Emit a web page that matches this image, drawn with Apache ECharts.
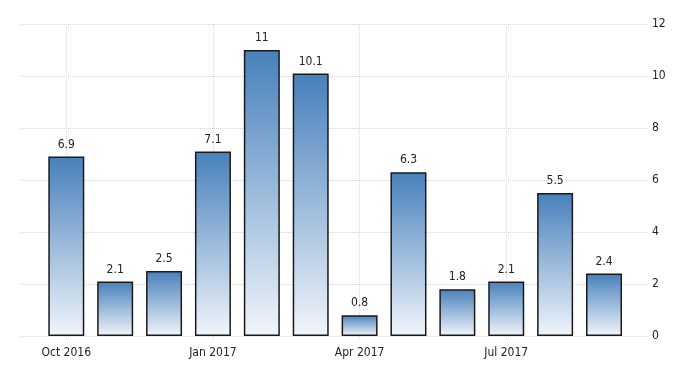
<!DOCTYPE html>
<html>
<head>
<meta charset="utf-8">
<script src="https://cdn.jsdelivr.net/npm/echarts@6/dist/echarts.min.js"></script>
<style>html,body{margin:0;padding:0;background:#fff;}#c{width:700px;height:375px;}</style>
</head>
<body>
<div id="c"></div>
<script>
const months = ["Oct 2016","Nov 2016","Dec 2016","Jan 2017","Feb 2017","Mar 2017","Apr 2017","May 2017","Jun 2017","Jul 2017","Aug 2017","Sep 2017"];
const values = [6.9, 2.1, 2.5, 7.1, 11, 10.1, 0.8, 6.3, 1.8, 2.1, 5.5, 2.4];
const tickIndexes = [0, 3, 6, 9];
const yTicks = [0, 2, 4, 6, 8, 10, 12];

const FONT = "'Liberation Sans Narrow', 'DejaVu Sans Condensed', Arial, sans-serif";
const chart = echarts.init(document.getElementById('c'), null, {renderer: 'canvas'});
chart.setOption({
  animation: false,
  backgroundColor: '#ffffff',
  grid: {left: 20, right: 52, top: 24, bottom: 39, containLabel: false},
  xAxis: {
    type: 'value',
    min: -0.947,
    max: 11.9,
    axisLine: {show: false},
    axisTick: {show: true, customValues: tickIndexes, length: 4, lineStyle: {color: '#d6d6d6', type: 'dotted'}},
    axisLabel: {
      customValues: tickIndexes,
      formatter: v => months[Math.round(v)] || '',
      color: '#222', fontFamily: FONT, fontSize: 12, margin: 11
    },
    splitLine: {show: true, lineStyle: {color: '#dcdcdc', type: 'dotted', width: 1}}
  },
  yAxis: {
    type: 'value',
    position: 'right',
    min: yTicks[0], max: yTicks[yTicks.length - 1], interval: 2,
    axisLine: {show: false},
    axisTick: {show: false},
    axisLabel: {color: '#222', fontFamily: FONT, fontSize: 12, margin: 4},
    splitLine: {show: true, lineStyle: {color: '#d4d4d4', type: 'dotted', width: 1}}
  },
  series: [{
    type: 'bar',
    barWidth: 36,
    data: values.map((v, i) => [i, v]),
    itemStyle: {
      color: new echarts.graphic.LinearGradient(0, 0, 0, 1, [
        {offset: 0, color: '#4780bb'},
        {offset: 1, color: '#f1f5fb'}
      ]),
      borderColor: '#1a1a1a',
      borderWidth: 1.5
    },
    label: {
      show: true, position: 'top', distance: 6,
      color: '#222', fontFamily: FONT, fontSize: 12,
      formatter: p => String(p.value[1])
    }
  }]
});
</script>
</body>
</html>
